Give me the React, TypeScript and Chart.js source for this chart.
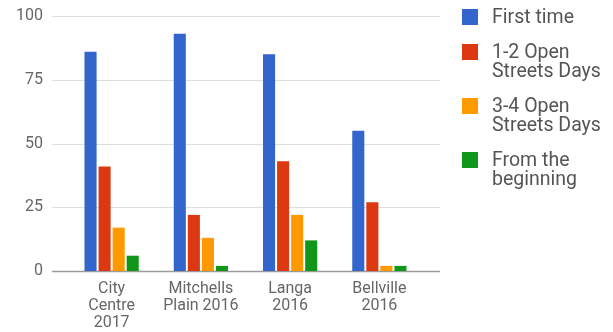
import React, { useEffect, useRef } from "react";
import { Chart, registerables } from "chart.js";

Chart.register(...registerables);

const categories: (string | string[])[] = [
  ["City", "Centre", "2017"],
  ["Mitchells", "Plain 2016"],
  ["Langa", "2016"],
  ["Bellville", "2016"],
];
const seriesNames = ["First time", "1-2 Open Streets Days", "3-4 Open Streets Days", "From the beginning"];
const firstTime = [86, 93, 85, 55];
const oneTwoDays = [41, 22, 43, 27];
const threeFourDays = [17, 13, 22, 2];
const fromBeginning = [6, 2, 12, 2];
const colors = ["#3366cc", "#dc3912", "#ff9900", "#109618"];
const yTicks = [0, 25, 50, 75, 100];

const gridPlugin = {
  id: "wideGrid",
  beforeDatasetsDraw(chart: any) {
    const { ctx, chartArea, scales } = chart;
    const y = scales.y;
    const x0 = chartArea.left - 15;
    const x1 = chartArea.right + 16;
    ctx.save();
    for (const v of yTicks) {
      const py = Math.round(y.getPixelForValue(v)) + 0.5;
      ctx.beginPath();
      ctx.strokeStyle = v === 0 ? "#9a9a9a" : "#dedede";
      ctx.lineWidth = v === 0 ? 1.5 : 1;
      ctx.moveTo(x0, py);
      ctx.lineTo(x1, py);
      ctx.stroke();
    }
    ctx.restore();
  },
};

const legendPlugin = {
  id: "sideLegend",
  afterDraw(chart: any) {
    const { ctx } = chart;
    const left = 462;
    const textX = 492;
    const maxW = 118;
    const lineH = 19;
    let baseline = 23;
    ctx.save();
    ctx.font = "19.5px Roboto, Arial, sans-serif";
    ctx.textBaseline = "alphabetic";
    ctx.textAlign = "left";
    chart.data.datasets.forEach((ds: any) => {
      const words = String(ds.label).split(" ");
      const lines: string[] = [];
      let cur = "";
      for (const w of words) {
        const t = cur ? cur + " " + w : w;
        if (ctx.measureText(t).width > maxW && cur) {
          lines.push(cur);
          cur = w;
        } else cur = t;
      }
      if (cur) lines.push(cur);
      ctx.fillStyle = ds.backgroundColor;
      ctx.fillRect(left, baseline - 14, 16, 16);
      ctx.fillStyle = "#555555";
      lines.forEach((l, i) => ctx.fillText(l, textX, baseline + i * lineH));
      baseline += 35 + lineH * (lines.length - 1);
    });
    ctx.restore();
  },
};

export default function App() {
  const ref = useRef<HTMLCanvasElement>(null);
  useEffect(() => {
    document.body.style.margin = "0";
    const series = [firstTime, oneTwoDays, threeFourDays, fromBeginning];
    const chart = new Chart(ref.current!, {
      type: "bar",
      data: {
        labels: categories,
        datasets: series.map((d, i) => ({
          label: seriesNames[i],
          data: d,
          backgroundColor: colors[i],
          borderWidth: 0,
          categoryPercentage: 0.63,
          barPercentage: 0.86,
        })),
      },
      options: {
        animation: false,
        responsive: false,
        maintainAspectRatio: false,
        layout: { padding: { top: 16, right: 189, bottom: 0, left: 0 } },
        plugins: { legend: { display: false }, tooltip: { enabled: false }, title: { display: false } },
        scales: {
          x: {
            grid: { display: false, drawTicks: false },
            border: { display: false },
            ticks: {
              font: { family: "Roboto, Arial, sans-serif", size: 16, lineHeight: 17 / 16 },
              color: "#666666",
              padding: 9,
              maxRotation: 0,
              autoSkip: false,
            },
            afterFit(scale: any) {
              scale.height = 61;
            },
          },
          y: {
            min: 0,
            max: 100,
            grid: { display: false, drawTicks: true, tickLength: 24 },
            border: { display: false },
            ticks: {
              stepSize: 25,
              font: { family: "Roboto, Arial, sans-serif", size: 16 },
              color: "#666666",
              padding: 0,
            },
            afterFit(scale: any) {
              scale.width = 67;
            },
          },
        },
      },
      plugins: [gridPlugin, legendPlugin],
    });
    return () => chart.destroy();
  }, []);
  return (
    <div style={{ width: 613, height: 332 }}>
      <canvas ref={ref} width={613} height={332} style={{ width: 613, height: 332, display: "block" }} />
    </div>
  );
}
